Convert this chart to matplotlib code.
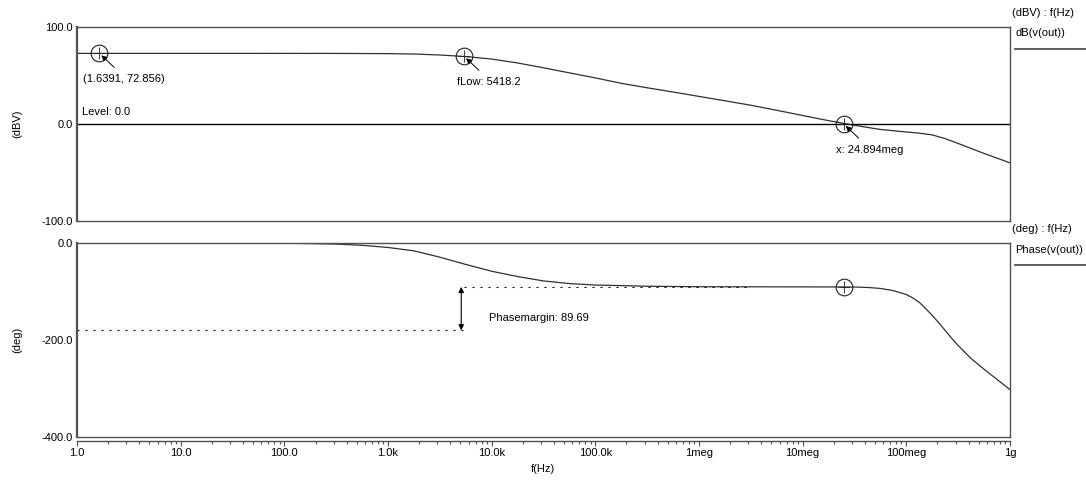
import numpy as np
import matplotlib
matplotlib.use('Agg')
import matplotlib.pyplot as plt

plt.rcParams['font.family'] = ['Liberation Sans', 'DejaVu Sans']
plt.rcParams['font.size'] = 8

# gain curve (decade exponent of f, dBV)
gain_logf = [0, 0.5, 1, 1.5, 2, 2.5, 3, 3.25, 3.5, 3.75, 4, 4.25, 4.5, 4.75, 5,
             5.25, 5.5, 5.75, 6, 6.25, 6.5, 6.75, 7, 7.25, 7.5, 7.75, 8, 8.125,
             8.25, 8.375, 8.5, 8.75, 9]
gain_db = [72.86, 72.86, 72.86, 72.86, 72.85, 72.82, 72.6, 72.2, 71.2, 69.6,
           67.0, 63.0, 58.0, 52.8, 47.6, 42.0, 37.4, 33.0, 28.5, 24.0, 19.4,
           14.2, 8.8, 3.5, -1.3, -5.6, -8.2, -9.4, -11.2, -15.0, -20.0, -30.3,
           -40.0]

# phase curve (decade exponent of f, degrees)
phase_logf = [0, 1, 2, 2.25, 2.5, 2.75, 3, 3.25, 3.5, 3.75, 4, 4.25, 4.5, 4.75,
              5, 5.5, 6, 6.5, 7, 7.5, 7.625, 7.75, 7.875, 8, 8.0625, 8.125,
              8.1875, 8.25, 8.3125, 8.375, 8.4375, 8.5, 8.625, 8.75, 8.875, 9]
phase_deg = [0, 0, -0.3, -1.0, -2.0, -4.5, -9.0, -16.0, -29.0, -44.0, -58.0,
             -69.0, -78.0, -83.5, -86.5, -89.0, -90.0, -90.2, -90.3, -90.6,
             -91.5, -93.5, -98.0, -106.0, -113.0, -122.0, -135.0, -149.0,
             -164.0, -180.0, -196.0, -211.0, -238.0, -260.0, -281.0, -302.0]

# cursor / measurement results
start_f, start_gain = 1.6391, 72.856
f_low, gain_at_low = 5418.2, 69.86
f_cross = 24.894e6
phase_at_cross = -90.31
phase_margin = 89.69
pm_line_end = 3.0e6

xtick_vals = [1, 10, 100, 1e3, 1e4, 1e5, 1e6, 1e7, 1e8, 1e9]
xtick_labels = ['1.0', '10.0', '100.0', '1.0k', '10.0k', '100.0k',
                '1meg', '10meg', '100meg', '1g']

gain_f = np.power(10.0, gain_logf)
phase_f = np.power(10.0, phase_logf)

fig = plt.figure(figsize=(10.86, 4.86), dpi=100)
ax1 = fig.add_axes([0.0709, 0.5453, 0.859, 0.399])
ax2 = fig.add_axes([0.0709, 0.1008, 0.859, 0.399])

curve_c = '#303030'
spine_c = '#505050'

for ax in (ax1, ax2):
    ax.set_xscale('log')
    ax.set_xlim(1, 1e9)
    for s in ax.spines.values():
        s.set_color(spine_c)
        s.set_linewidth(1.0)
    ax.spines['left'].set_linewidth(1.6)
    ax.tick_params(axis='y', length=0, pad=3)

# --- gain plot
ax1.plot(gain_f, gain_db, color=curve_c, lw=0.9)
ax1.axhline(0, color='black', lw=1.0)
ax1.set_ylim(-100, 100)
ax1.set_yticks([-100, 0, 100])
ax1.set_yticklabels(['-100.0', '0.0', '100.0'])
ax1.set_xticks([])
ax1.minorticks_off()
ax1.tick_params(axis='x', which='both', length=0, labelbottom=False)
ax1.set_ylabel('(dBV)', labelpad=14)

def cursor(ax, x, y):
    ax.plot([x], [y], marker='o', ms=12, mfc='none', mec='#202020', mew=0.8, ls='none')
    ax.plot([x], [y], marker='+', ms=9, mec='#202020', mew=0.6, ls='none')

def pointer(ax, x, y, label, dx, dy):
    ax.annotate('', xy=(x, y), xytext=(15, -14), textcoords='offset pixels',
                arrowprops=dict(arrowstyle='-|>', color='black', lw=0.7,
                                mutation_scale=8, shrinkA=0, shrinkB=2))
    ax.annotate(label, xy=(x, y), xytext=(dx, dy), textcoords='offset pixels',
                ha='left', va='center')

cursor(ax1, start_f, start_gain)
pointer(ax1, start_f, start_gain, '(1.6391, 72.856)', -16, -26)
cursor(ax1, f_low, gain_at_low)
pointer(ax1, f_low, gain_at_low, 'fLow: 5418.2', -7, -26)
cursor(ax1, f_cross, 0)
pointer(ax1, f_cross, 0, 'x: 24.894meg', -8, -26)
ax1.annotate('Level: 0.0', xy=(1, 0), xytext=(5, 12), textcoords='offset pixels',
             ha='left', va='center')

# --- phase plot
ax2.plot(phase_f, phase_deg, color=curve_c, lw=0.9)
ax2.set_ylim(-400, 0)
ax2.set_yticks([-400, -200, 0])
ax2.set_yticklabels(['-400.0', '-200.0', '0.0'])
ax2.set_ylabel('(deg)', labelpad=14)
ax2.spines['bottom'].set_position(('outward', 3))
ax2.axhline(-400, color=spine_c, lw=1.0, clip_on=False)
ax2.set_xticks(xtick_vals)
ax2.set_xticklabels(xtick_labels)
ax2.xaxis.set_minor_locator(matplotlib.ticker.LogLocator(base=10, subs=np.arange(2, 10), numticks=20))
ax2.xaxis.set_minor_formatter(matplotlib.ticker.NullFormatter())
ax2.tick_params(axis='x', which='major', length=3.5, width=0.8, color=spine_c, pad=1.5)
ax2.tick_params(axis='x', which='minor', length=1.8, width=0.8, color=spine_c)
ax2.set_xlabel('f(Hz)', labelpad=4)

dash = (0, (1.8, 5.4))
ax2.plot([1, f_low], [phase_at_cross - phase_margin] * 2, color='black', lw=0.8, ls=dash)
ax2.plot([f_low, pm_line_end], [phase_at_cross] * 2, color='black', lw=0.8, ls=dash)
ax2.annotate('', xy=(f_low * 0.94, phase_at_cross - phase_margin),
             xytext=(f_low * 0.94, phase_at_cross),
             arrowprops=dict(arrowstyle='<|-|>', color='black', lw=0.8,
                             mutation_scale=8, shrinkA=0, shrinkB=0))
ax2.annotate('Phasemargin: 89.69', xy=(f_low, phase_at_cross - phase_margin / 2),
             xytext=(25, -9), textcoords='offset pixels', ha='left', va='center')
cursor(ax2, f_cross, phase_at_cross)

# --- right-hand legend
fig.text(1012 / 1086, 1 - 13 / 486, '(dBV) : f(Hz)', ha='left', va='center')
fig.text(1015 / 1086, 1 - 33 / 486, 'dB(v(out))', ha='left', va='center')
fig.add_artist(plt.Line2D([1015 / 1086, 1.0], [1 - 49 / 486] * 2, color='#404040', lw=1.2))
fig.text(1012 / 1086, 1 - 229 / 486, '(deg) : f(Hz)', ha='left', va='center')
fig.text(1015 / 1086, 1 - 250 / 486, 'Phase(v(out))', ha='left', va='center')
fig.add_artist(plt.Line2D([1015 / 1086, 1.0], [1 - 265 / 486] * 2, color='#404040', lw=1.2))

fig.savefig('out.png', dpi=100)
